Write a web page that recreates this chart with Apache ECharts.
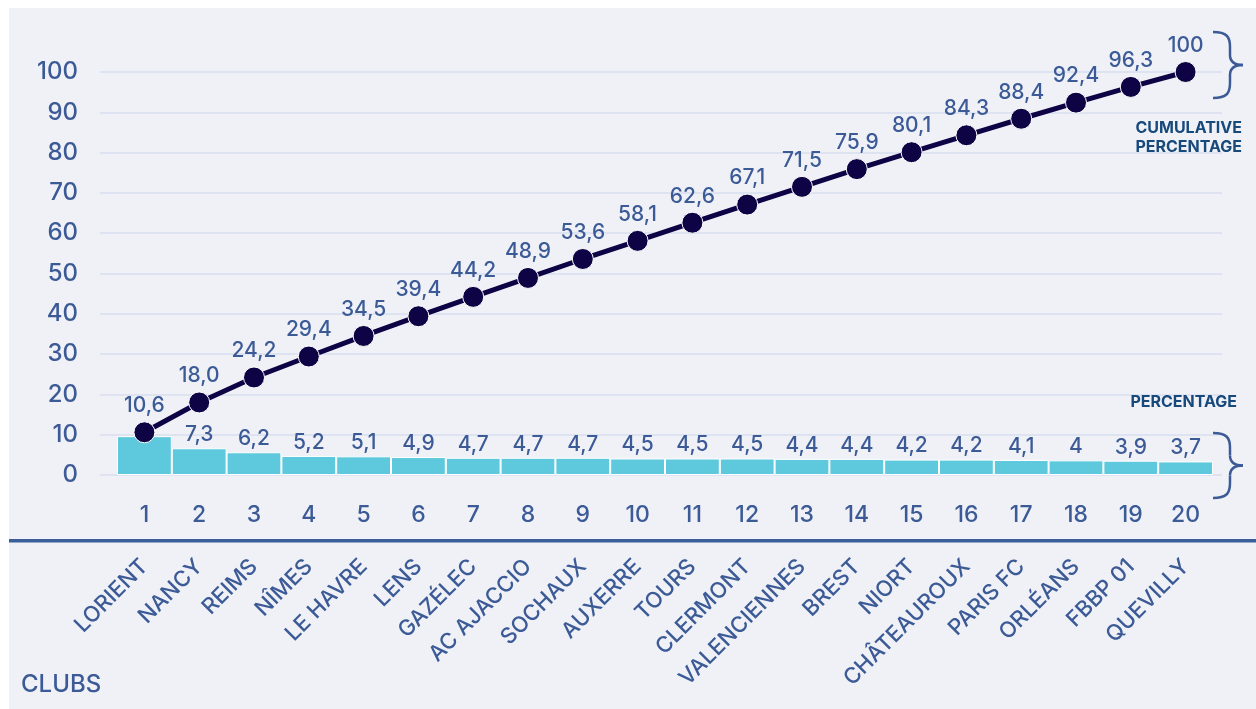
<!DOCTYPE html>
<html>
<head>
<meta charset="utf-8">
<script src="https://cdn.jsdelivr.net/npm/echarts@6/dist/echarts.min.js"></script>
<style>
html,body{margin:0;padding:0;background:#ffffff;}
#chart{width:1256px;height:709px;}
</style>
</head>
<body>
<div id="chart"></div>
<script>
const ranks = ['1','2','3','4','5','6','7','8','9','10','11','12','13','14','15','16','17','18','19','20'];
const clubs = ['LORIENT','NANCY','REIMS','NÎMES','LE HAVRE','LENS','GAZÉLEC','AC AJACCIO','SOCHAUX','AUXERRE','TOURS','CLERMONT','VALENCIENNES','BREST','NIORT','CHÂTEAUROUX','PARIS FC','ORLÉANS','FBBP 01','QUEVILLY'];
const percentage = [10.6,7.3,6.2,5.2,5.1,4.9,4.7,4.7,4.7,4.5,4.5,4.5,4.4,4.4,4.2,4.2,4.1,4,3.9,3.7];
const cumulative = [10.6,18.0,24.2,29.4,34.5,39.4,44.2,48.9,53.6,58.1,62.6,67.1,71.5,75.9,80.1,84.3,88.4,92.4,96.3,100];
const yTicks = [0,10,20,30,40,50,60,70,80,90,100];

const FONT = 'Inter';
const TXT = '#3b5a96';
const chart = echarts.init(document.getElementById('chart'));

const barData = percentage.map((v,i)=> i===0 ? {value:v,label:{show:false}} : v);

function brace(y0, y1){
  const m = (y0+y1)/2, st = {stroke:'#3b5a96',lineWidth:2.5,fill:null};
  return [
    {type:'bezierCurve',z:5,shape:{x1:1213,y1:y0,cpx1:1227,cpy1:y0,cpx2:1230,cpy2:y0+5,x2:1230,y2:y0+15},style:st},
    {type:'line',z:5,shape:{x1:1230,y1:y0+15,x2:1230,y2:m-10},style:st},
    {type:'bezierCurve',z:5,shape:{x1:1230,y1:m-10,cpx1:1230,cpy1:m-4,cpx2:1234,cpy2:m,x2:1243,y2:m},style:st},
    {type:'bezierCurve',z:5,shape:{x1:1243,y1:m,cpx1:1234,cpy1:m,cpx2:1230,cpy2:m+4,x2:1230,y2:m+10},style:st},
    {type:'line',z:5,shape:{x1:1230,y1:m+10,x2:1230,y2:y1-15},style:st},
    {type:'bezierCurve',z:5,shape:{x1:1230,y1:y1-15,cpx1:1230,cpy1:y1-5,cpx2:1227,cpy2:y1,x2:1213,y2:y1},style:st}
  ];
}

chart.setOption({
  animation:false,
  backgroundColor:'#ffffff',
  textStyle:{fontFamily:FONT},
  graphic:[
    {type:'rect',z:-10,shape:{x:9,y:8,width:1247,height:701},style:{fill:'#eff1f7'}},
    {type:'rect',z:5,shape:{x:9,y:539,width:1247,height:3.5},style:{fill:'#3b5e98'}},
    ...brace(32,98),
    ...brace(433,498),
    {type:'text',z:5,style:{x:1242,y:128,text:'CUMULATIVE',textAlign:'right',textVerticalAlign:'middle',fill:'#17497b',font:'bold 16px Inter'}},
    {type:'text',z:5,style:{x:1242,y:147,text:'PERCENTAGE',textAlign:'right',textVerticalAlign:'middle',fill:'#17497b',font:'bold 16px Inter'}},
    {type:'text',z:5,style:{x:1237,y:402,text:'PERCENTAGE',textAlign:'right',textVerticalAlign:'middle',fill:'#17497b',font:'bold 16px Inter'}},
    {type:'text',z:5,style:{x:21,y:685,text:'CLUBS',textAlign:'left',textVerticalAlign:'middle',fill:TXT,font:'500 24px Inter'}}
  ],
  grid:[
    {left:100,right:34,top:72,bottom:234},
    {left:117,right:43,top:72,bottom:234}
  ],
  xAxis:[
    {gridIndex:0,type:'value',show:false,min:0,max:1},
    {gridIndex:1,type:'category',data:ranks,position:'bottom',
      axisLine:{show:false},axisTick:{show:false},
      axisLabel:{color:TXT,fontSize:23,fontWeight:500,margin:29,fontFamily:FONT}},
    {gridIndex:1,type:'category',data:clubs,position:'bottom',offset:78,
      axisLine:{show:false},axisTick:{show:false},
      axisLabel:{color:TXT,fontSize:22,fontWeight:500,margin:10,rotate:45,interval:0,fontFamily:FONT}}
  ],
  yAxis:[
    {gridIndex:0,type:'value',min:0,max:100,interval:10,
      axisLine:{show:false},axisTick:{show:false},
      axisLabel:{color:TXT,fontSize:24,fontWeight:500,margin:22,fontFamily:FONT,padding:[0,0,8,0],
        formatter:(v)=> yTicks.includes(v)? String(v):''},
      splitLine:{lineStyle:{color:'#d9def0',width:1.5}}},
    {gridIndex:1,type:'value',min:0,max:100,show:false},
    {gridIndex:1,type:'value',min:0,max:110,show:false}
  ],
  series:[
    {type:'bar',xAxisIndex:1,yAxisIndex:2,data:barData,barCategoryGap:0,
      itemStyle:{color:'#5ec8dc',borderColor:'#ffffff',borderWidth:1},
      label:{show:true,position:'top',distance:3,color:TXT,fontSize:21,fontWeight:500,fontFamily:FONT,
        formatter:(p)=>String(p.value).replace('.',',')},
      z:2},
    {type:'line',xAxisIndex:1,yAxisIndex:1,data:cumulative,
      symbol:'circle',symbolSize:21,
      lineStyle:{color:'#0e0345',width:5},
      itemStyle:{color:'#0e0345',borderColor:'#ffffff',borderWidth:1},
      label:{show:true,position:'top',distance:5,color:TXT,fontSize:21,fontWeight:500,fontFamily:FONT,
        formatter:(p)=> p.value===100 ? '100' : p.value.toFixed(1).replace('.',',')},
      z:3}
  ]
});
</script>
</body>
</html>
